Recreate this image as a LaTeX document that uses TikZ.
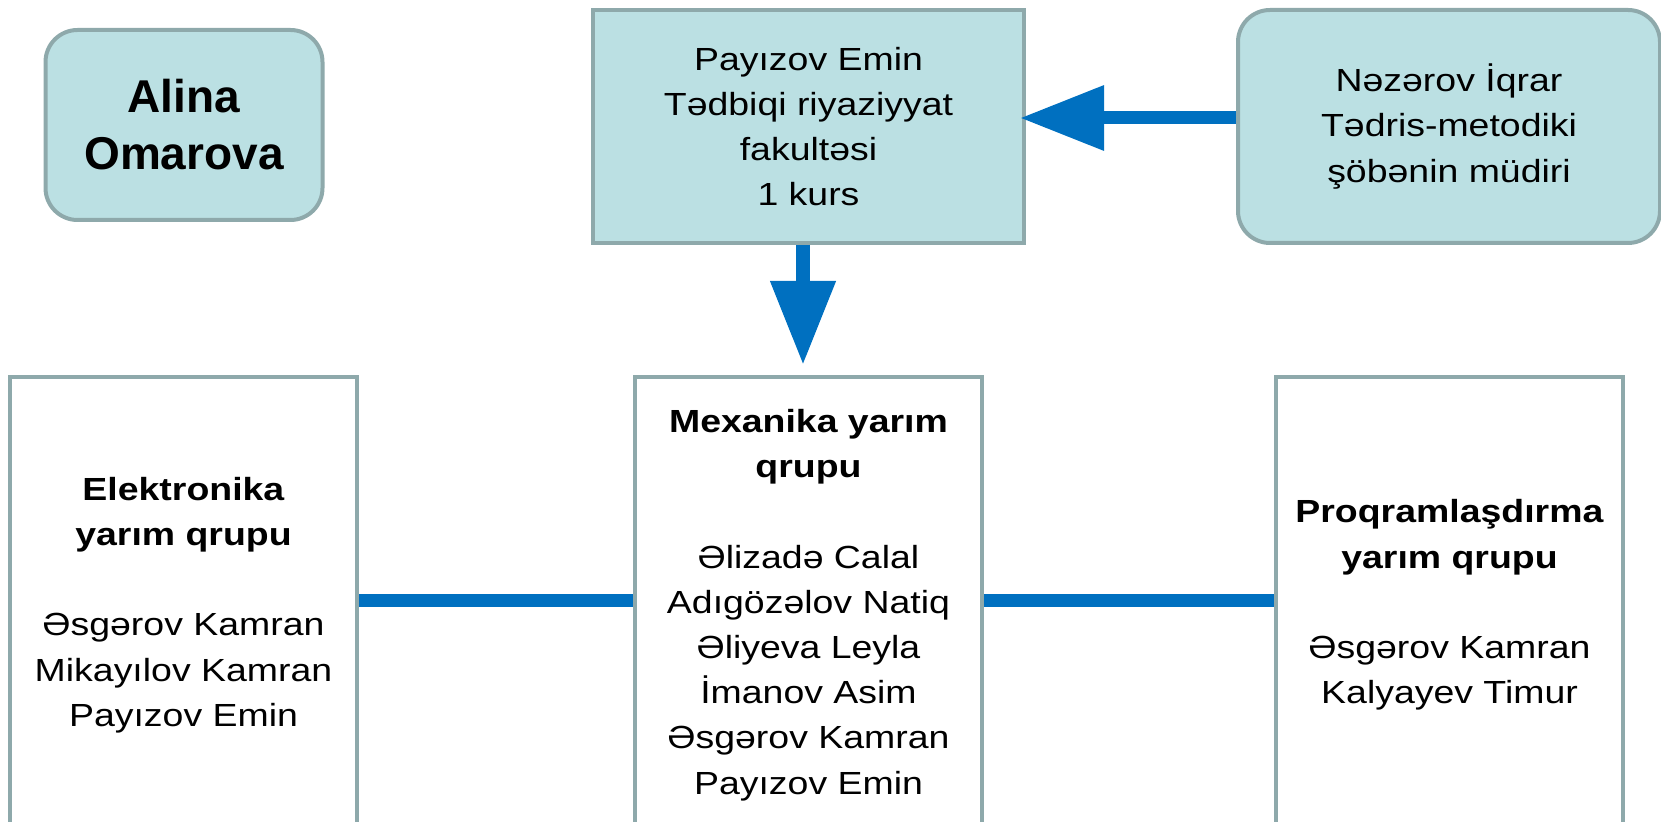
\documentclass[tikz,border=0pt]{standalone}
\usepackage{fontspec}
\setmainfont[FakeStretch=1.17]{Liberation Sans}
\newfontfamily\namefont{Liberation Sans}
\usepackage{tikz}
\usetikzlibrary{positioning}
\usetikzlibrary{arrows.meta}

\definecolor{boxfill}{HTML}{BBE0E3}
\definecolor{boxline}{HTML}{8EA9AB}
\definecolor{linkblue}{HTML}{0070C0}

\begin{document}
\begin{tikzpicture}[x=0.5pt,y=-0.5pt,
                font=\fontsize{16}{22.6}\selectfont,
                head box/.style={rectangle,draw=boxline,fill=boxfill,line width=2pt,
                  inner sep=0pt,align=center},
                round box/.style={head box,rounded corners=16pt},
                group box/.style={rectangle,draw=boxline,fill=white,line width=2pt,
                  inner sep=0pt,align=center,minimum width=173.5pt,minimum height=228pt},
                link/.style={draw=linkblue,line width=6.5pt},
                big arrow/.style={link,-{Triangle[length=42pt,width=31pt]}}]

  \useasboundingbox (0,0) rectangle (1661,822);

  \node[round box,minimum width=138.5pt,minimum height=95pt,
        font=\namefont\fontsize{23}{28.5}\selectfont\bfseries] (alina) at (184,125) {Alina\\Omarova};
  \node[head box,minimum width=215.5pt,minimum height=116.5pt] (kurs) at (808.5,126.5)
        {Payızov Emin\\Tədbiqi riyaziyyat\\fakultəsi\\1 kurs};
  \node[round box,minimum width=211pt,minimum height=116.5pt] (mudir) at (1449,126.5)
        {Nəzərov İqrar\\Tədris-metodiki\\şöbənin müdiri};

  \node[group box] (elek) at (183.5,605)
        {\textbf{Elektronika}\\\textbf{yarım qrupu}\\[22.6pt]Əsgərov Kamran\\Mikayılov Kamran\\Payızov Emin};
  \node[group box] (mex) at (808.5,605)
        {\textbf{Mexanika yarım}\\\textbf{qrupu}\\[22.6pt]Əlizadə Calal\\Adıgözəlov Natiq\\Əliyeva Leyla\\İmanov Asim\\Əsgərov Kamran\\Payızov Emin};
  \node[group box] (proq) at (1449.5,605)
        {\textbf{Proqramlaşdırma}\\\textbf{yarım qrupu}\\[22.6pt]Əsgərov Kamran\\Kalyayev Timur};

  \draw[big arrow,shorten >=-3pt] ([yshift=4.25pt]mudir.west) -- ([yshift=4.25pt]kurs.east);
  \draw[big arrow,line width=7pt,shorten >=5pt] ([xshift=-2.75pt]kurs.south) -- ([xshift=-2.75pt]mex.north);
  \draw[link] ([yshift=2pt]elek.east) -- ([yshift=2pt]mex.west);
  \draw[link] ([yshift=2pt]mex.east) -- ([yshift=2pt]proq.west);
\end{tikzpicture}
\end{document}
